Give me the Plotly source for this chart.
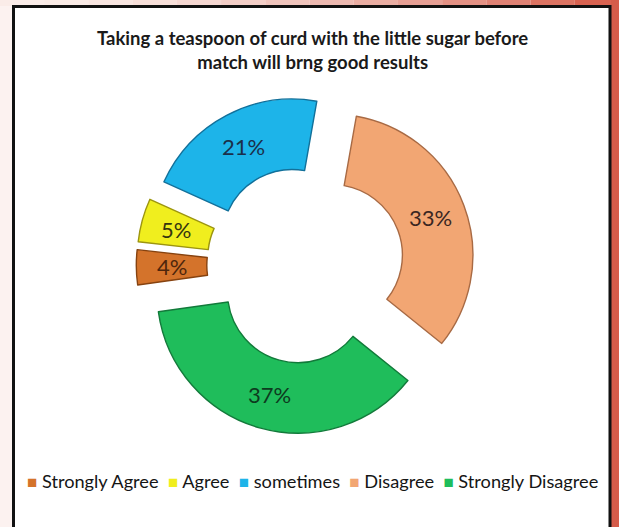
import math
import plotly.graph_objects as go

# Survey responses (share of respondents, %)
categories = ["Strongly Agree", "Agree", "sometimes", "Disagree", "Strongly Disagree"]
shares = [4, 5, 21, 33, 37]

slice_colors = ["#d4732b", "#f0ee1e", "#1db4e9", "#f2a673", "#1fbd5b"]
edge_colors = ["#86420f", "#9c9510", "#12709a", "#a86a44", "#127a3a"]
label_colors = ["#4e260c", "#35350f", "#1b2f4a", "#3a2622", "#0d3a1e"]

title_text = ("Taking a teaspoon of curd with the little sugar before"
              "<br>match will brng good results")

FONT = "Lato"
W, H = 619, 527

# donut geometry (pixels)
CX, CY = 305.5, 265.0
RADIUS = 141.0
PULL = 0.2
HOLE = 0.5
ROTATION = 262


def px_x(x):
    return x / W


def px_y(y):
    return 1 - y / H


half = RADIUS * (1 + PULL)
domain_x = [px_x(CX - half), px_x(CX + half)]
domain_y = [px_y(CY + half), px_y(CY - half)]

fig = go.Figure(
    go.Pie(
        labels=categories,
        values=shares,
        sort=False,
        direction="clockwise",
        rotation=ROTATION,
        hole=HOLE,
        pull=PULL,
        marker=dict(colors=slice_colors, line=dict(color=edge_colors, width=1.4)),
        textinfo="none",
        hoverinfo="label+percent",
        domain=dict(x=domain_x, y=domain_y),
        showlegend=False,
    )
)

# percentage labels, centred in the ring of each exploded slice
annotations = []
total = sum(shares)
cum = 0
for v, col in zip(shares, label_colors):
    mid = math.radians(ROTATION + 360 * (cum + v / 2) / total)
    cum += v
    dist = PULL * RADIUS + RADIUS * (1 + HOLE) / 2
    lx = CX + dist * math.sin(mid)
    ly = CY - dist * math.cos(mid)
    annotations.append(dict(
        x=px_x(lx), y=px_y(ly), xref="paper", yref="paper",
        text=f"{round(100 * v / total)}%", showarrow=False,
        xanchor="center", yanchor="middle",
        font=dict(family=FONT, size=22, color=col),
    ))

# legend row along the bottom
legend_items = [
    f"<span style='color:{col};font-size:17px'>\u25a0</span>\u00a0{name}"
    for name, col in zip(categories, slice_colors)
]
annotations.append(dict(
    x=px_x(312), y=px_y(481), xref="paper", yref="paper",
    text="\u00a0\u00a0".join(legend_items), showarrow=False,
    xanchor="center", yanchor="middle",
    font=dict(family=FONT, size=18.2, color="#151515"),
))

# frame: pale surround, reddish top/right edge, black-bordered white panel
shapes = []
steps = 14
c0 = (250, 236, 232)
c1 = (216, 98, 80)
for i in range(steps):
    f = (i / (steps - 1)) ** 1.6
    col = tuple(int(round(a + (b - a) * f)) for a, b in zip(c0, c1))
    shapes.append(dict(
        type="rect", xref="paper", yref="paper", layer="below",
        x0=px_x(W * i / steps), x1=px_x(W * (i + 1) / steps),
        y0=px_y(6), y1=px_y(0),
        fillcolor="rgb(%d,%d,%d)" % col, line=dict(width=0),
    ))
shapes.append(dict(
    type="rect", xref="paper", yref="paper", layer="below",
    x0=px_x(611), x1=px_x(W), y0=px_y(H), y1=px_y(0),
    fillcolor="#d55c4a", line=dict(width=0),
))
shapes.append(dict(
    type="rect", xref="paper", yref="paper", layer="below",
    x0=px_x(13.5), x1=px_x(610), y0=px_y(H + 10), y1=px_y(6.5),
    fillcolor="white", line=dict(color="#111111", width=3),
))

fig.update_layout(
    width=W, height=H,
    margin=dict(l=0, r=0, t=0, b=0),
    paper_bgcolor="#fcf2f0",
    plot_bgcolor="white",
    title=dict(
        text=title_text, x=0.505, xanchor="center",
        y=px_y(45), yanchor="middle", yref="container",
        font=dict(family=FONT, size=18.5, color="#1a1a1a", weight="bold"),
    ),
    annotations=annotations,
    shapes=shapes,
)

fig.write_html("out.html")
